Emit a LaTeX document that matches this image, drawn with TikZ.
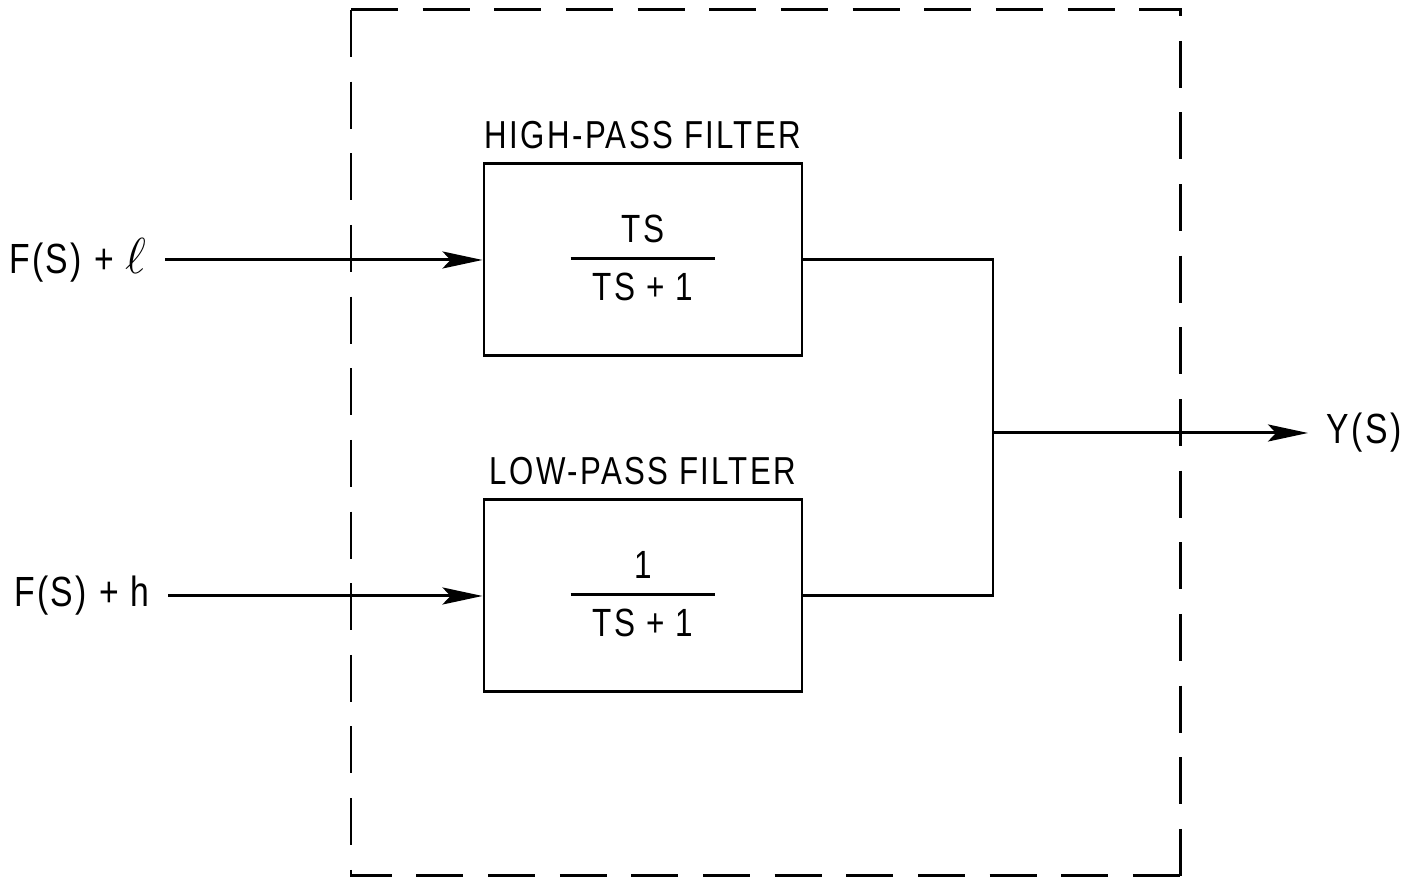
\documentclass[tikz,border=0pt]{standalone}
\usepackage{fontspec}
\setmainfont[FakeStretch=0.8,LetterSpace=6]{Liberation Sans}
\usepackage{tikz}
\usetikzlibrary{arrows.meta,positioning}
\setlength{\arrayrulewidth}{0.85pt}
\setlength{\tabcolsep}{0.22cm}
\renewcommand{\arraystretch}{1.25}

\begin{document}
\begin{tikzpicture}[line width=0.85pt,
  filt/.style={draw,minimum width=3.18cm,minimum height=1.92cm,font=\fontsize{11.2}{13}\selectfont},
  ttl/.style={font=\fontsize{11.1}{13}\selectfont,inner sep=0.08cm},
  lbl/.style={font=\fontsize{12}{14}\selectfont,inner sep=0.17cm},
  sig/.style={-{Stealth[length=4mm,width=1.7mm,inset=0.8mm]}},
  bnd/.style={dash pattern=on 0.47cm off 0.2465cm}]
  \useasboundingbox (0,0) rectangle (14.02,8.78);
  % dashed boundary
  \coordinate (tl) at (3.51,8.68);
  \coordinate (tr) at (11.80,8.68);
  \coordinate (bl) at (3.51,0.02);
  \coordinate (br) at (11.80,0.02);
  \draw[bnd] (tl) -- (tr) -- (br);
  \draw[bnd] (tl) -- (bl) -- (br);
  % filters
  \node[filt] (hp) at (6.43,6.18) {\begin{tabular}{c}TS\\[-0.02cm]\hline TS + 1\end{tabular}};
  \node[filt] (lp) at (6.43,2.82) {\begin{tabular}{c}1\\[-0.02cm]\hline TS + 1\end{tabular}};
  \node[ttl,above=0.04cm of hp] (hpt) {HIGH-PASS FILTER};
  \node[ttl,above=0.04cm of lp] (lpt) {LOW-PASS FILTER};
  % signals
  \node[lbl,anchor=east] (fl) at (1.65,6.18) {F(S) + {\fontsize{14}{14}\selectfont$\ell$}};
  \node[lbl,anchor=east] (fh) at (1.68,2.82) {F(S) + h};
  \coordinate (jn) at (9.93,4.45);
  \node[lbl,anchor=west] (ys) at (13.08,4.45) {Y(S)};
  \draw[sig] (fl) -- (hp);
  \draw[sig] (fh) -- (lp);
  \draw (hp.east) -| (jn) |- (lp.east);
  \draw[sig] (jn) -- (ys);
\end{tikzpicture}
\end{document}
